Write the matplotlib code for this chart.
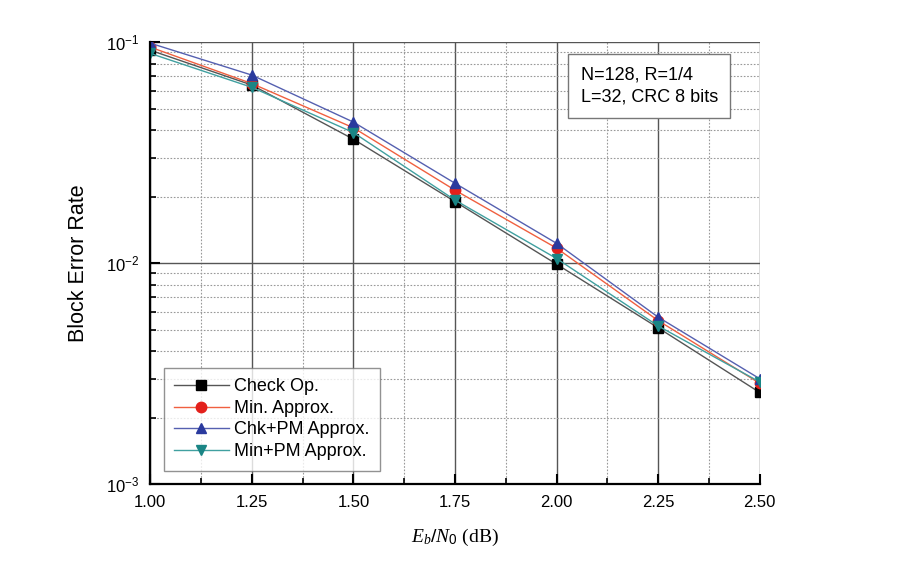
import matplotlib
matplotlib.use("Agg")
import matplotlib.pyplot as plt
from matplotlib.ticker import LogLocator, MultipleLocator, NullFormatter

ebn0 = [1.00, 1.25, 1.50, 1.75, 2.00, 2.25, 2.50]
check_op = [0.092, 0.064, 0.0364, 0.019, 0.0099, 0.0051, 0.0026]
min_approx = [0.095, 0.065, 0.041, 0.0214, 0.0117, 0.0055, 0.00286]
chk_pm = [0.099, 0.071, 0.0435, 0.023, 0.0123, 0.0057, 0.0030]
min_pm = [0.089, 0.0625, 0.039, 0.0193, 0.0105, 0.0052, 0.0029]

series = [
    ("Check Op.", check_op, "s", "#000000", "#555555"),
    ("Min. Approx.", min_approx, "o", "#e3201b", "#f06040"),
    ("Chk+PM Approx.", chk_pm, "^", "#2a3a9e", "#5560b0"),
    ("Min+PM Approx.", min_pm, "v", "#1a8585", "#40a0a0"),
]

plt.rcParams['font.family'] = ['Liberation Sans', 'DejaVu Sans']
plt.rcParams['mathtext.fontset'] = 'custom'
plt.rcParams['mathtext.rm'] = 'Liberation Sans'
plt.rcParams['mathtext.it'] = 'Liberation Serif:italic'

fig = plt.figure(figsize=(9.22, 5.63), dpi=100)
ax = fig.add_axes([0.163, 0.140, 0.661, 0.785])

for label, vals, m, mc, lc in series:
    ax.plot(ebn0, vals, color=lc, lw=1.0, marker=m, markersize=7.5,
            markerfacecolor=mc, markeredgecolor=mc, label=label)

ax.set_yscale('log')
ax.set_xlim(1.0, 2.5)
ax.set_ylim(1e-3, 1e-1)

ax.xaxis.set_major_locator(MultipleLocator(0.25))
ax.xaxis.set_minor_locator(MultipleLocator(0.125))
ax.xaxis.set_major_formatter(matplotlib.ticker.FormatStrFormatter('%.2f'))
ax.yaxis.set_major_locator(LogLocator(base=10, numticks=10))
ax.yaxis.set_minor_locator(LogLocator(base=10, subs=range(2, 10), numticks=20))
ax.yaxis.set_minor_formatter(NullFormatter())

ax.grid(True, which='major', color='#555555', lw=1.0, ls='-')
ax.grid(True, which='minor', color='#999999', lw=0.8, ls=(0, (1.5, 1.5)))
ax.set_axisbelow(True)

ax.spines['top'].set_visible(False)
ax.spines['right'].set_visible(False)
ax.spines['left'].set_linewidth(1.6)
ax.spines['bottom'].set_linewidth(1.6)
ax.tick_params(which='major', direction='in', length=7, width=1.5, labelsize=12, pad=8)
ax.tick_params(which='minor', direction='in', length=4, width=1.2)

ax.set_ylabel('Block Error Rate', fontsize=15.5, labelpad=12)
ax.set_xlabel(r'$E_b/N_0$ (dB)', fontsize=14, family='Liberation Serif', labelpad=12)

leg = ax.legend(loc='lower left', bbox_to_anchor=(0.007, 0.01), fontsize=13,
                frameon=True, fancybox=False, edgecolor='#777777',
                handlelength=3, handletextpad=0.3, borderpad=0.6, labelspacing=0.25)
leg.get_frame().set_linewidth(1.0)

ax.text(0.706, 0.945, 'N=128, R=1/4\nL=32, CRC 8 bits', transform=ax.transAxes,
        fontsize=13, va='top', ha='left', linespacing=1.4,
        bbox=dict(boxstyle='square,pad=0.7', facecolor='white', edgecolor='#777777', lw=1.0))

fig.savefig('out.png', dpi=100)
